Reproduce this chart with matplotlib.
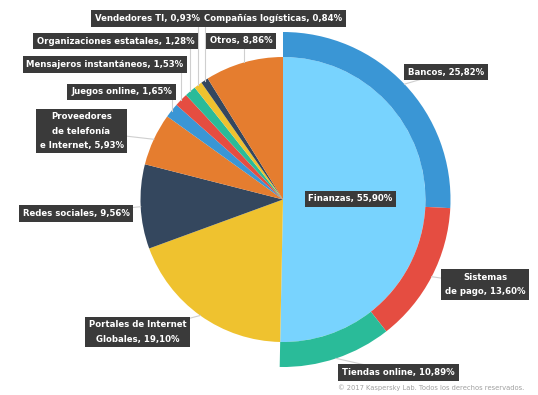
import numpy as np
import matplotlib.pyplot as plt
from matplotlib import font_manager as fm

W, H = 538, 395

# data (percent values as printed on the chart)
fin_label = 'Finanzas'
fin_value = 55.90
sub_names = ['Bancos', 'Sistemas\nde pago', 'Tiendas online']
sub_vals = [25.82, 13.60, 10.89]
other_names = ['Portales de Internet\nGlobales', 'Redes sociales',
               'Proveedores\nde telefonía\ne Internet', 'Juegos online',
               'Mensajeros instantáneos', 'Organizaciones estatales',
               'Vendedores TI', 'Compañías logísticas', 'Otros']
other_vals = [19.10, 9.56, 5.93, 1.65, 1.53, 1.28, 0.93, 0.84, 8.86]

# colours
fin_color = '#78d3fe'
sub_colors = ['#3a96d5', '#e54d41', '#2abb99']
other_colors = ['#efc22f', '#34475e', '#e57d2f', '#3a96d5', '#e54d41',
                '#2abb99', '#efc22f', '#34475e', '#e57d2f']

# label box centres in pixel coords (x, y from top)
sub_pos = [(446, 72), (485, 284.5), (398.5, 372.5)]
other_pos = [(137.5, 332), (76, 213.5), (81.5, 131), (121.5, 92),
             (105, 64.5), (115.5, 41), (147.5, 18.5), (273.5, 18.5),
             (241, 41)]
vertical_lead = [False, False, False, True, True, True, True, True, True]

cx, cy = 283, H - 199.5
r_in, r_out = 142.5, 167.5


# look for a narrow bold face, the original uses a condensed font
def pick_font():
    files = [f.fname for f in fm.fontManager.ttflist]
    prefs = ['LiberationSansNarrow-Bold.', 'DejaVuSansCondensed-Bold.',
             'NotoSans-CondensedBold.', 'RobotoCondensed-Bold.',
             'NotoSans-SemiCondensedBold.', 'OpenSans-CondensedBold.']
    for key in prefs:
        for fn in files:
            if fn.split('/')[-1].startswith(key):
                return fm.FontProperties(fname=fn)
    return fm.FontProperties(family=['Lato', 'DejaVu Sans'], weight='bold')


fp = pick_font()

fig = plt.figure(figsize=(W / 100, H / 100), dpi=100)
ax = fig.add_axes([0, 0, 1, 1])

# fit the size so "Bancos, 25,82%" is about as wide as in the original
rend = fig.canvas.get_renderer()
probe = fig.text(0, 0, 'Bancos, 25,82%', fontproperties=fp, fontsize=10)
ext = probe.get_window_extent(rend)
probe.remove()
fsize = min(9.5, 10 * 76 / ext.width)
h1 = ext.height * fsize / 10          # one line height in px
pad = max(0.1, (17 - h1) / 2 * 0.72 / fsize)
lsp = 16.5 / h1


def fmt(name, v):
    return '{}, {}%'.format(name, ('%.2f' % v).replace('.', ','))


def label(x, y, txt):
    ax.text(x, H - y, txt, ha='center', va='center', color='white',
            fontproperties=fp, fontsize=fsize, linespacing=lsp,
            zorder=6,
            bbox=dict(boxstyle='square,pad=%.3f' % pad, fc='#3a3a3a', ec='none'))


def mid(w, rad):
    a = np.deg2rad((w.theta1 + w.theta2) / 2)
    return cx + rad * np.cos(a), cy + rad * np.sin(a)


inner_vals = [sum(sub_vals)] + other_vals
inner, _ = ax.pie(inner_vals, colors=[fin_color] + other_colors,
                  startangle=90, counterclock=False, center=(cx, cy),
                  radius=r_in, wedgeprops=dict(linewidth=0))
outer, _ = ax.pie(sub_vals + [sum(other_vals)], colors=sub_colors + ['none'],
                  startangle=90, counterclock=False, center=(cx, cy),
                  radius=r_out, wedgeprops=dict(width=r_out - r_in, linewidth=0))

ax.set_xlim(0, W)
ax.set_ylim(0, H)
ax.set_aspect('equal')
ax.set_axis_off()

lc = '#cfcfcf'
# leader lines
for w, (px, py), vert in zip(inner[1:], other_pos, vertical_lead):
    mx, my = mid(w, r_in)
    if vert:
        ax.plot([mx, mx], [my, H - py], color=lc, lw=0.8, zorder=1)
    else:
        ax.plot([mx, px], [my, H - py], color=lc, lw=0.8, zorder=1)

for w, (px, py) in zip(outer[:3], sub_pos):
    mx, my = mid(w, r_out)
    ax.plot([mx, px], [my, H - py], color=lc, lw=0.8, zorder=1)

for n, v, (px, py) in zip(other_names, other_vals, other_pos):
    label(px, py, fmt(n, v))
for n, v, (px, py) in zip(sub_names, sub_vals, sub_pos):
    label(px, py, fmt(n, v))
label(350.5, 199, fmt(fin_label, fin_value))

ax.text(431, H - 388, '© 2017 Kaspersky Lab. Todos los derechos reservados.',
        ha='center', va='center', color='#a0a0a0', fontsize=4.9,
        family='DejaVu Sans')

fig.savefig('out.png', dpi=100)
